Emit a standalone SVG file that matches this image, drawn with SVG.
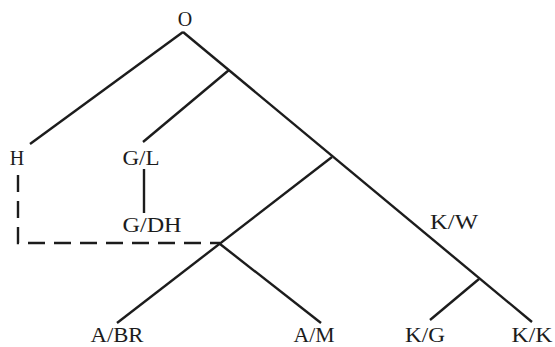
<svg xmlns="http://www.w3.org/2000/svg" width="555" height="347" viewBox="0 0 555 347">
  <style>
    .edge { stroke: #1c1c1c; stroke-width: 2.4; fill: none; stroke-linecap: butt; }
    .dash { stroke: #1c1c1c; stroke-width: 2.4; fill: none; stroke-dasharray: 17 9; }
    .lbl { font-family: "Liberation Serif", "Times New Roman", serif; font-size: 20px; fill: #1c1c1c; text-anchor: middle; }
  </style>
  <rect width="555" height="347" fill="#ffffff"/>

  <!-- tree branches -->
  <g id="connectors">
    <line class="edge" x1="183" y1="32" x2="30" y2="144"/>
    <line class="edge" x1="183" y1="32" x2="532" y2="322"/>
    <line class="edge" x1="229" y1="70" x2="143" y2="142"/>
    <line class="edge" x1="144" y1="169" x2="144" y2="213"/>
    <line class="edge" x1="332" y1="157" x2="117" y2="323"/>
    <line class="edge" x1="220" y1="244" x2="321" y2="323"/>
    <line class="edge" x1="479" y1="279" x2="430" y2="320"/>
    <path class="dash" d="M18 175 V243 H220"/>
  </g>

  <!-- labelled nodes -->
  <g id="node-O"><text class="lbl" x="185" y="26">O</text></g>
  <g id="node-H"><text class="lbl" x="17" y="165">H</text></g>
  <g id="node-GL"><text class="lbl" x="141" y="165" textLength="37" lengthAdjust="spacingAndGlyphs">G/L</text></g>
  <g id="node-GDH"><text class="lbl" x="152" y="232" textLength="59" lengthAdjust="spacingAndGlyphs">G/DH</text></g>
  <g id="node-KW"><text class="lbl" x="454" y="229" textLength="48" lengthAdjust="spacingAndGlyphs">K/W</text></g>
  <g id="node-ABR"><text class="lbl" x="117" y="342" textLength="53" lengthAdjust="spacingAndGlyphs">A/BR</text></g>
  <g id="node-AM"><text class="lbl" x="314" y="342" textLength="41" lengthAdjust="spacingAndGlyphs">A/M</text></g>
  <g id="node-KG"><text class="lbl" x="425" y="342" textLength="40" lengthAdjust="spacingAndGlyphs">K/G</text></g>
  <g id="node-KK"><text class="lbl" x="532" y="342" textLength="41" lengthAdjust="spacingAndGlyphs">K/K</text></g>
</svg>
